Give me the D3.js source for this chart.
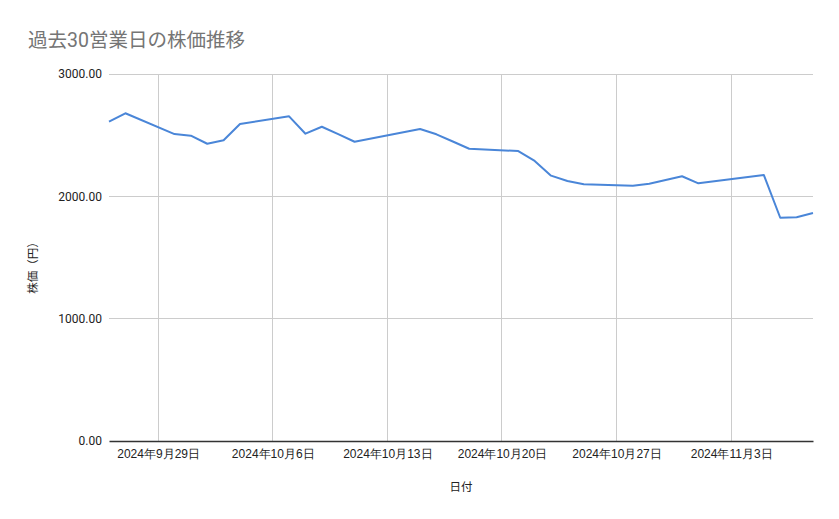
<!DOCTYPE html>
<html><head><meta charset="utf-8">
<script src="https://cdn.jsdelivr.net/npm/d3@7"></script>
<style>body{margin:0;background:#fff}svg{display:block;font-family:Roboto,"Noto Sans CJK JP",sans-serif}</style>
</head><body><svg id="c" width="839" height="519"></svg>
<script>
const dates = ["2024-09-26","2024-09-27","2024-09-30","2024-10-01","2024-10-02","2024-10-03","2024-10-04",
"2024-10-07","2024-10-08","2024-10-09","2024-10-10","2024-10-11","2024-10-15","2024-10-16","2024-10-17","2024-10-18",
"2024-10-21","2024-10-22","2024-10-23","2024-10-24","2024-10-25","2024-10-28","2024-10-29","2024-10-30","2024-10-31",
"2024-11-01","2024-11-05","2024-11-06","2024-11-07","2024-11-08"];
const prices = [2610,2679,2509,2496,2430,2458,2591,2654,2512,2569,2508,2446,2550,2507,2448,2389,
2370,2289,2169,2125,2098,2087,2103,2133,2164,2106,2174,1825,1829,1864];
const yTicks = [0,1000,2000,3000];
const xTicks = ["2024-09-29","2024-10-06","2024-10-13","2024-10-20","2024-10-27","2024-11-03"];
const title = "過去30営業日の株価推移";
const xTitle = "日付";
const yTitle = "株価（円）";

const parse = d3.utcParse("%Y-%m-%d");
const data = dates.map((d,i)=>({d:parse(d), v:prices[i]}));
const svg = d3.select("#c");
const L=109, R=813, T=74, B=441;
const x = d3.scaleUtc().domain([parse("2024-09-26"), parse("2024-11-08")]).range([L,R]);
const y = d3.scaleLinear().domain([0,3000]).range([B,T]);
const fmtX = d => `${d.getUTCFullYear()}年${d.getUTCMonth()+1}月${d.getUTCDate()}日`;

// gridlines
svg.append("g").selectAll("line").data(yTicks.filter(t=>t>0)).join("line")
  .attr("x1",L).attr("x2",R).attr("y1",d=>y(d)).attr("y2",d=>y(d))
  .attr("stroke","#cccccc").attr("stroke-width",1).attr("shape-rendering","crispEdges");
svg.append("g").selectAll("line").data(xTicks.map(parse)).join("line")
  .attr("x1",d=>x(d)).attr("x2",d=>x(d)).attr("y1",T).attr("y2",B)
  .attr("stroke","#cccccc").attr("stroke-width",1).attr("shape-rendering","crispEdges");

// y axis labels
const ya = svg.append("g").attr("transform",`translate(${L},0)`)
  .call(d3.axisLeft(y).tickValues(yTicks).tickFormat(d3.format(".2f")).tickSize(0).tickPadding(7));
ya.select(".domain").remove();
ya.selectAll("text").attr("font-size",12).attr("fill","#222").attr("font-family","Roboto,sans-serif");

// x axis
const xa = svg.append("g").attr("transform",`translate(0,${B})`)
  .call(d3.axisBottom(x).tickValues(xTicks.map(parse)).tickFormat(fmtX).tickSize(0).tickPadding(8));
xa.select(".domain").attr("stroke","#333").attr("stroke-width",1.3);
xa.selectAll("text").attr("font-size",12).attr("fill","#222");

// line
svg.append("path").datum(data)
  .attr("fill","none").attr("stroke","#4a86d8").attr("stroke-width",2).attr("stroke-linejoin","round")
  .attr("d", d3.line().x(d=>x(d.d)).y(d=>y(d.v)));

// titles
svg.append("text").attr("x",28).attr("y",47).text(title)
  .attr("font-size",19.5).attr("fill","#757575");
svg.append("text").attr("x",461).attr("y",491).attr("text-anchor","middle").text(xTitle)
  .attr("font-size",11.5).attr("fill","#222");
svg.append("text").attr("transform",`translate(37,265) rotate(-90)`).attr("text-anchor","middle").text(yTitle)
  .attr("font-size",11.5).attr("fill","#222");
</script></body></html>
